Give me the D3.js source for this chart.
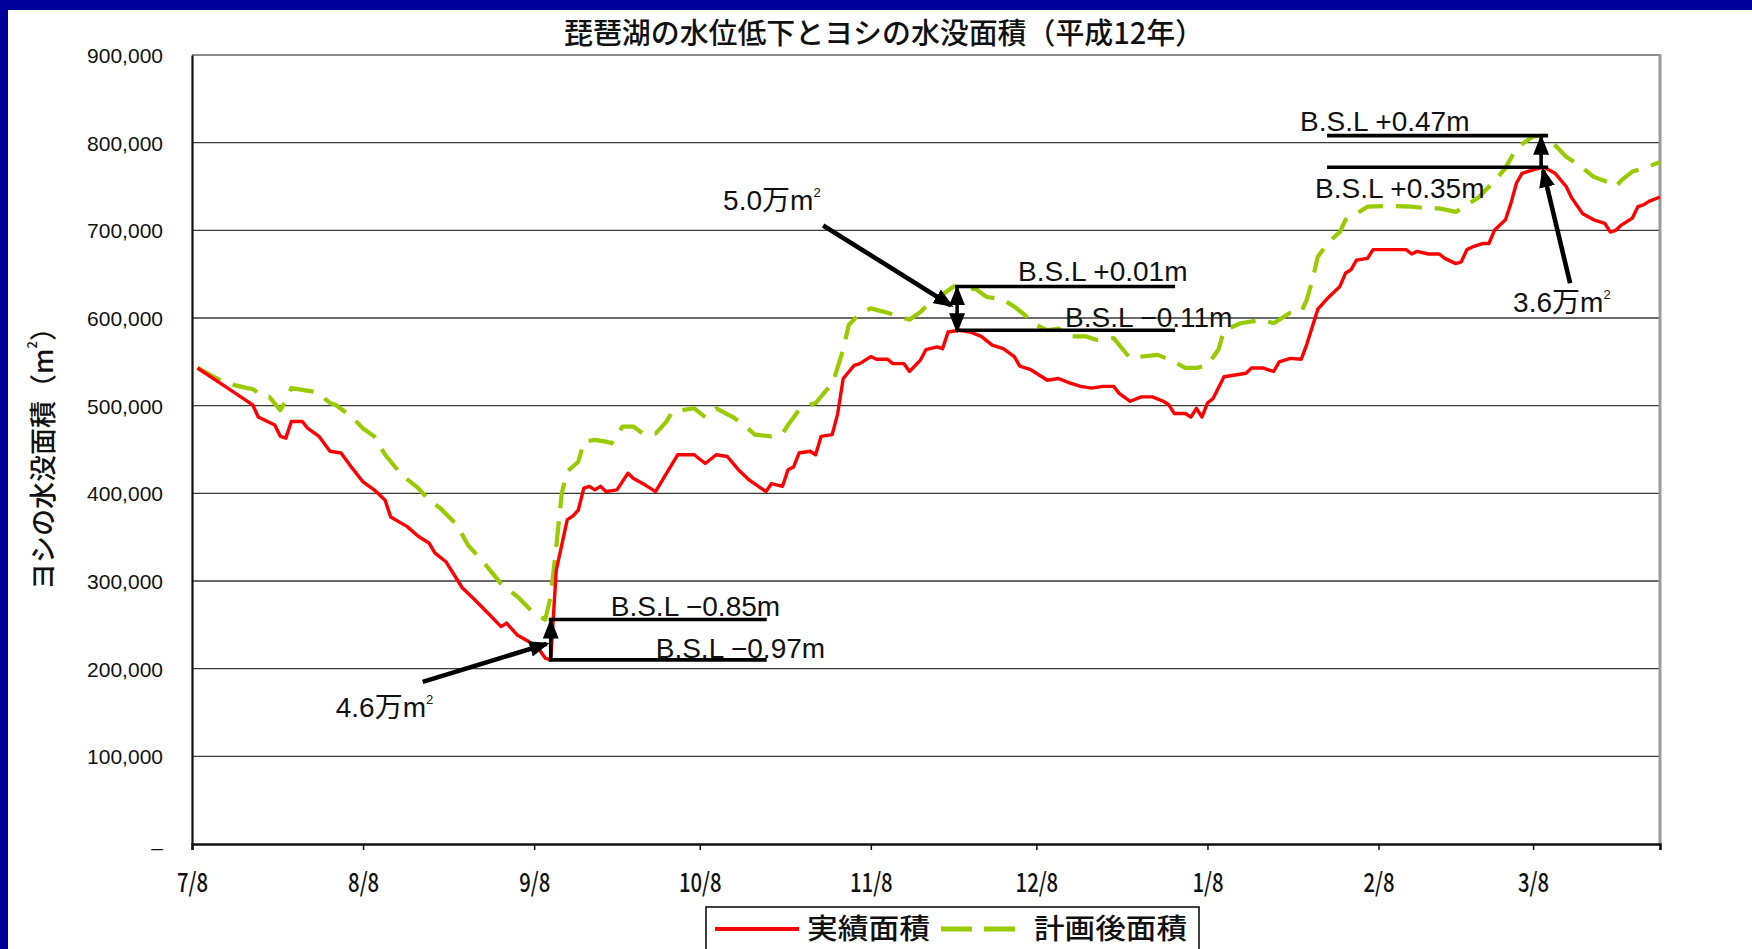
<!DOCTYPE html>
<html>
<head>
<meta charset="utf-8">
<script src="https://cdn.jsdelivr.net/npm/d3@7"></script>
<style>
  html, body { margin: 0; padding: 0; background: #fff; }
  svg { display: block; }
</style>
</head>
<body>
<svg id="chart" width="1752" height="949"></svg>
<script>
// ---------------- data ----------------
const chartTitle = "琵琶湖の水位低下とヨシの水没面積（平成12年）";
const yTitleParts = ["ヨシの水没面積（m", "2", "）"];
const seriesNames = ["実績面積", "計画後面積"];
const xDomain = ["7/8", "3/31"];
const xTickLabels = ["7/8", "8/8", "9/8", "10/8", "11/8", "12/8", "1/8", "2/8", "3/8"];
const yTickValues = [0, 100000, 200000, 300000, 400000, 500000, 600000, 700000, 800000, 900000];

// 実績面積 (m²)
const actualDates = ["7/9","7/14","7/19","7/20","7/23","7/24","7/25","7/26","7/28","7/29",
  "7/31","8/2","8/4","8/6","8/8","8/10","8/12","8/13","8/16","8/18",
  "8/20","8/21","8/23","8/26","8/28","8/31","9/2","9/3","9/5","9/7",
  "9/9","9/10","9/11","9/12","9/14","9/15","9/16","9/17","9/18","9/19",
  "9/20","9/21","9/23","9/25","9/26","9/28","9/30","10/2","10/4","10/7",
  "10/9","10/11","10/13","10/15","10/17","10/20","10/21","10/23","10/24","10/25",
  "10/26","10/28","10/29","10/30","11/1","11/2","11/3","11/5","11/6","11/8",
  "11/9","11/11","11/12","11/14","11/15","11/17","11/18","11/20","11/21","11/22",
  "11/24","11/26","11/28","11/30","12/2","12/4","12/5","12/7","12/9","12/10",
  "12/12","12/14","12/16","12/18","12/20","12/22","12/23","12/25","12/27","12/29",
  "12/31","1/1","1/2","1/4","1/5","1/6","1/7","1/8","1/9","1/11",
  "1/13","1/15","1/16","1/18","1/20","1/21","1/23","1/25","1/26","1/27",
  "1/28","1/30","2/1","2/2","2/3","2/4","2/6","2/7","2/13","2/14",
  "2/15","2/17","2/19","2/20","2/22","2/23","2/24","2/25","2/27","2/28",
  "3/1","3/3","3/4","3/5","3/6","3/8","3/10","3/12","3/14","3/15",
  "3/17","3/19","3/21","3/22","3/23","3/24","3/26","3/27","3/28","3/29",
  "3/31"];
const actualArea = [543000,522000,501000,487000,478000,465000,463000,482000,482000,474000,
  465000,448000,446000,429000,413000,404000,392000,373000,362000,351000,
  343000,332000,322000,292000,280000,261000,248000,252000,238000,231000,
  221000,212000,210000,312000,370000,374000,381000,406000,408000,404000,
  408000,402000,404000,423000,417000,410000,402000,423000,444000,444000,
  434000,444000,442000,427000,415000,402000,411000,408000,427000,430000,
  446000,448000,444000,465000,467000,491000,531000,546000,548000,556000,
  553000,553000,548000,548000,539000,552000,564000,567000,565000,584000,
  586000,584000,579000,569000,565000,556000,545000,541000,533000,529000,
  531000,526000,522000,520000,522000,522000,514000,505000,510000,510000,
  505000,501000,491000,491000,487000,497000,487000,503000,508000,533000,
  535000,537000,543000,543000,539000,550000,554000,553000,570000,590000,
  610000,624000,636000,651000,655000,666000,668000,678000,678000,673000,
  676000,673000,673000,668000,662000,664000,678000,681000,685000,685000,
  700000,712000,731000,754000,765000,769000,772000,765000,750000,737000,
  719000,712000,708000,698000,700000,706000,714000,727000,729000,733000,
  738000];

// 計画後面積 (m²)
const plannedDates = ["7/9","7/14","7/18","7/19","7/21","7/22","7/24","7/25","7/26","7/30",
  "7/31","8/2","8/3","8/6","8/8","8/10","8/12","8/15","8/18","8/20",
  "8/22","8/25","8/27","8/30","9/2","9/5","9/8","9/10","9/11","9/12",
  "9/13","9/14","9/16","9/17","9/19","9/21","9/22","9/24","9/26","9/28",
  "9/30","10/2","10/3","10/7","10/9","10/11","10/14","10/16","10/18","10/21",
  "10/23","10/24","10/26","10/28","10/29","10/31","11/1","11/3","11/4","11/6",
  "11/8","11/11","11/15","11/17","11/18","11/20","11/23","11/27","11/29","12/2",
  "12/4","12/6","12/8","12/10","12/12","12/14","12/17","12/19","12/22","12/25",
  "12/27","12/30","1/2","1/4","1/6","1/8","1/10","1/11","1/14","1/18",
  "1/20","1/23","1/25","1/26","1/27","1/28","1/30","2/1","2/2","2/4",
  "2/6","2/10","2/14","2/17","2/19","2/22","2/24","2/26","3/1","3/3",
  "3/5","3/8","3/10","3/12","3/14","3/17","3/19","3/22","3/23","3/24",
  "3/26","3/29","3/31"];
const plannedArea = [543000,526000,520000,519000,510000,510000,495000,505000,520000,516000,
  514000,503000,501000,487000,474000,465000,444000,421000,406000,392000,
  383000,364000,341000,320000,297000,282000,263000,256000,282000,339000,
  400000,425000,436000,459000,461000,459000,457000,476000,476000,467000,
  468000,482000,493000,497000,487000,497000,487000,478000,467000,465000,
  468000,478000,495000,501000,503000,518000,524000,564000,592000,605000,
  611000,606000,598000,607000,613000,622000,636000,633000,624000,621000,
  613000,603000,592000,586000,588000,579000,579000,575000,577000,554000,
  556000,558000,550000,543000,543000,546000,564000,586000,594000,598000,
  594000,606000,607000,621000,643000,670000,687000,698000,712000,719000,
  727000,728000,727000,725000,725000,721000,729000,737000,756000,771000,
  794000,807000,808000,797000,784000,771000,761000,754000,750000,757000,
  767000,773000,778000];

// 水位注記: 日付、計画後・実績の面積、水位
const noteDates = ["9/11", "11/24", "3/10"];
const notePlanned = [256000, 636000, 808000];
const noteActual = [210000, 586000, 772000];
const noteUpperLabels = ["B.S.L −0.85m", "B.S.L +0.01m", "B.S.L +0.47m"];
const noteLowerLabels = ["B.S.L −0.97m", "B.S.L −0.11m", "B.S.L +0.35m"];

// ---------------- layout ----------------
const plot = { left: 192, right: 1660, top: 55, bottom: 844 };
const COLORS = { actual: "#ff0000", planned: "#99cc00", ink: "#111", grid: "#3a3a3a", frame: "#8c8c8c", band: "#00009a" };
const JP = "'Noto Sans CJK JP', 'Noto Sans', sans-serif";
const LAT = "'Liberation Sans', Arial, sans-serif";

// placement of each note relative to its vertical arrow (vx) and bracket lines (uy, ly)
const noteLayout = [
  { shift: 0,  lineFrom: -2,   lineTo: 216, upX: 60,   upDy: -4, loX: 105,  loDy: -2,
    arrowFrom: [-128, "ly", 22], arrowTo: [-4, "ly", -16], textX: -215, textRef: "ly", textDy: 57, bothHeads: false },
  { shift: -2, lineFrom: -2,   lineTo: 218, upX: 61,   upDy: -5, loX: 108,  loDy: -3,
    arrowFrom: [-134, "uy", -61], arrowTo: [-6, "uy", 19], textX: -234, textRef: "uy", textDy: -76, bothHeads: true },
  { shift: -3, lineFrom: -214, lineTo: 7,   upX: -241, upDy: -5, loX: -226, loDy: 31,
    arrowFrom: [29, "ly", 116], arrowTo: [2, "ly", 3], textX: -28, textRef: "ly", textDy: 145, bothHeads: false }
];

// ---------------- helpers ----------------
function parseMD(s) {
  const [m, d] = s.split("/").map(Number);
  return new Date(m >= 7 ? 2000 : 2001, m - 1, d);
}
function condense(sel, factor) {
  sel.each(function () {
    const w = this.getComputedTextLength();
    d3.select(this).attr("textLength", w * factor).attr("lengthAdjust", "spacingAndGlyphs");
  });
}

const svg = d3.select("#chart");
const x = d3.scaleTime().domain(xDomain.map(parseMD)).range([plot.left, plot.right]);
const y = d3.scaleLinear().domain([0, 900000]).range([plot.bottom, plot.top]);

const defs = svg.append("defs");
defs.append("marker")
  .attr("id", "head")
  .attr("viewBox", "0 0 20 16")
  .attr("refX", 17).attr("refY", 8)
  .attr("markerWidth", 20).attr("markerHeight", 16)
  .attr("markerUnits", "userSpaceOnUse")
  .attr("orient", "auto-start-reverse")
  .append("path").attr("d", "M0,0 L20,8 L0,16 Z").attr("fill", "#000");

// background
svg.append("rect").attr("width", 1752).attr("height", 949).attr("fill", "#fff");

// title
svg.append("text")
  .attr("x", 884).attr("y", 44)
  .attr("text-anchor", "middle")
  .attr("font-family", JP).attr("font-size", 29).attr("font-weight", 500)
  .attr("fill", COLORS.ink)
  .attr("textLength", 640).attr("lengthAdjust", "spacingAndGlyphs")
  .text(chartTitle);

// horizontal grid lines
svg.append("g").selectAll("line")
  .data(yTickValues.filter(v => v > 0 && v < 900000))
  .join("line")
  .attr("x1", plot.left).attr("x2", plot.right)
  .attr("y1", d => y(d)).attr("y2", d => y(d))
  .attr("stroke", COLORS.grid).attr("stroke-width", 1.3);

// plot frame: grey top and right, black axis lines
svg.append("line").attr("x1", plot.left).attr("x2", plot.right)
  .attr("y1", y(900000)).attr("y2", y(900000))
  .attr("stroke", COLORS.frame).attr("stroke-width", 2);
svg.append("line").attr("x1", plot.right).attr("x2", plot.right)
  .attr("y1", plot.top - 1).attr("y2", plot.bottom)
  .attr("stroke", "#9a9a9a").attr("stroke-width", 3);

// y axis
const yAxis = d3.axisLeft(y)
  .tickValues(yTickValues)
  .tickSize(0).tickPadding(29)
  .tickFormat(v => v === 0 ? "–" : d3.format(",")(v));
const gy = svg.append("g").attr("transform", `translate(${plot.left},0)`).call(yAxis);
gy.select(".domain").attr("stroke", "#111").attr("stroke-width", 2.2);
gy.selectAll("text")
  .attr("font-family", LAT).attr("font-size", 21).attr("fill", COLORS.ink)
  .attr("dy", "0.36em");
gy.selectAll(".tick").filter(d => d === 0).select("text").attr("dy", "0.5em");

// x axis
const xAxis = d3.axisBottom(x)
  .tickValues(xTickLabels.map(parseMD))
  .tickSize(6).tickPadding(0)
  .tickFormat((d, i) => xTickLabels[i]);
const gx = svg.append("g").attr("transform", `translate(0,${plot.bottom})`).call(xAxis);
gx.select(".domain").attr("stroke", "#111").attr("stroke-width", 2.6);
gx.selectAll(".tick line").attr("stroke", "#111").attr("stroke-width", 1.5);
gx.selectAll("text")
  .attr("font-family", JP).attr("font-size", 26).attr("font-weight", 500).attr("fill", COLORS.ink)
  .attr("y", 39).attr("dy", "0.36em");
condense(gx.selectAll("text"), 0.78);

// y axis title
const yTitle = svg.append("text")
  .attr("transform", "translate(41,452) rotate(-90)")
  .attr("text-anchor", "middle").attr("dominant-baseline", "central")
  .attr("font-family", JP).attr("font-size", 27).attr("font-weight", 500).attr("fill", COLORS.ink);
yTitle.append("tspan").text(yTitleParts[0]);
yTitle.append("tspan").attr("font-size", 13).attr("dy", -10).text(yTitleParts[1]);
yTitle.append("tspan").attr("dy", 10).text(yTitleParts[2]);

// series
const actual = actualDates.map((d, i) => ({ date: parseMD(d), v: actualArea[i] }));
const planned = plannedDates.map((d, i) => ({ date: parseMD(d), v: plannedArea[i] }));
const line = d3.line().x(d => x(d.date)).y(d => y(d.v));

svg.append("path").datum(planned)
  .attr("d", line).attr("fill", "none")
  .attr("stroke", COLORS.planned).attr("stroke-width", 4.2)
  .attr("stroke-dasharray", "26,13").attr("stroke-linejoin", "round");
svg.append("path").datum(actual)
  .attr("d", line).attr("fill", "none")
  .attr("stroke", COLORS.actual).attr("stroke-width", 3.4)
  .attr("stroke-linejoin", "round");

// notes: water-level brackets and area-difference arrows
const notes = svg.append("g");
noteDates.forEach((ds, i) => {
  const L = noteLayout[i];
  const vx = x(parseMD(ds)) + L.shift;
  const uy = y(notePlanned[i]);
  const ly = y(noteActual[i]);
  const ref = { uy, ly };
  const g = notes.append("g");

  [uy, ly].forEach(yy => {
    g.append("line")
      .attr("x1", vx + L.lineFrom).attr("x2", vx + L.lineTo)
      .attr("y1", yy).attr("y2", yy)
      .attr("stroke", "#000").attr("stroke-width", 3.6);
  });

  const v = g.append("line")
    .attr("x1", vx).attr("x2", vx)
    .attr("y1", ly).attr("y2", uy + 2)
    .attr("stroke", "#000").attr("stroke-width", 3.6)
    .attr("marker-end", "url(#head)");
  if (L.bothHeads) v.attr("marker-start", "url(#head)");

  g.append("text")
    .attr("x", vx + L.upX).attr("y", uy + L.upDy)
    .attr("font-family", LAT).attr("font-size", 28).attr("fill", COLORS.ink)
    .text(noteUpperLabels[i]);
  g.append("text")
    .attr("x", vx + L.loX).attr("y", ly + L.loDy)
    .attr("font-family", LAT).attr("font-size", 28).attr("fill", COLORS.ink)
    .text(noteLowerLabels[i]);

  g.append("line")
    .attr("x1", vx + L.arrowFrom[0]).attr("y1", ref[L.arrowFrom[1]] + L.arrowFrom[2])
    .attr("x2", vx + L.arrowTo[0]).attr("y2", ref[L.arrowTo[1]] + L.arrowTo[2])
    .attr("stroke", "#000").attr("stroke-width", 4.6)
    .attr("marker-end", "url(#head)");

  const diff = ((notePlanned[i] - noteActual[i]) / 10000).toFixed(1);
  const t = g.append("text")
    .attr("x", vx + L.textX).attr("y", ref[L.textRef] + L.textDy)
    .attr("font-family", LAT).attr("font-size", 28).attr("fill", COLORS.ink);
  t.append("tspan").text(diff);
  t.append("tspan").attr("font-family", JP).text("万");
  t.append("tspan").text("m");
  t.append("tspan").attr("font-size", 13).attr("dy", -13).text("2");
});

// legend
const lg = svg.append("g");
lg.append("rect").attr("x", 706).attr("y", 907).attr("width", 493).attr("height", 70)
  .attr("fill", "#fff").attr("stroke", "#111").attr("stroke-width", 1.6);
lg.append("line").attr("x1", 715).attr("x2", 799).attr("y1", 929).attr("y2", 929)
  .attr("stroke", COLORS.actual).attr("stroke-width", 4);
lg.append("text").attr("x", 807).attr("y", 927).attr("dominant-baseline", "central")
  .attr("font-family", JP).attr("font-size", 28).attr("font-weight", 500).attr("fill", COLORS.ink)
  .attr("textLength", 123).attr("lengthAdjust", "spacingAndGlyphs")
  .text(seriesNames[0]);
lg.append("line").attr("x1", 941).attr("x2", 1015).attr("y1", 929).attr("y2", 929)
  .attr("stroke", COLORS.planned).attr("stroke-width", 5).attr("stroke-dasharray", "31,12");
lg.append("text").attr("x", 1034).attr("y", 927).attr("dominant-baseline", "central")
  .attr("font-family", JP).attr("font-size", 28).attr("font-weight", 500).attr("fill", COLORS.ink)
  .attr("textLength", 153).attr("lengthAdjust", "spacingAndGlyphs")
  .text(seriesNames[1]);

// slide frame (blue band along the top and left edges)
svg.append("rect").attr("x", 0).attr("y", 0).attr("width", 1752).attr("height", 10).attr("fill", COLORS.band);
svg.append("rect").attr("x", 0).attr("y", 0).attr("width", 8).attr("height", 949).attr("fill", COLORS.band);
</script>
</body>
</html>
